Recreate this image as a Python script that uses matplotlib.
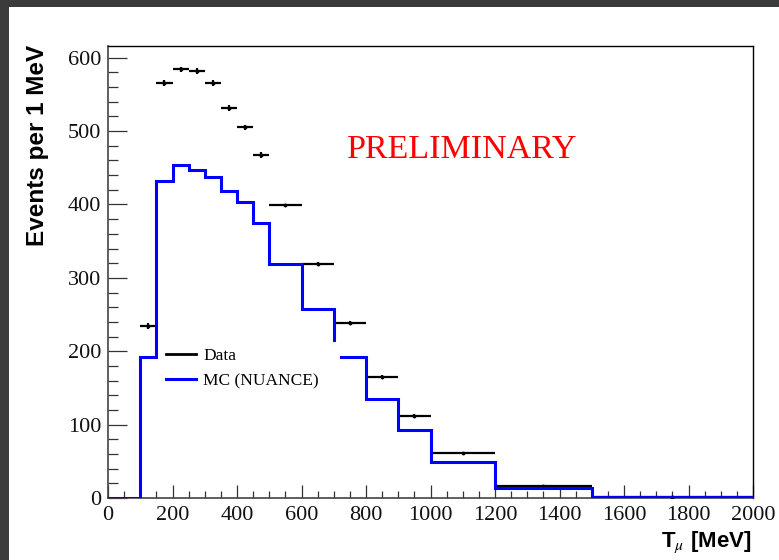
import matplotlib
matplotlib.use("Agg")
import matplotlib.pyplot as plt
from matplotlib.patches import Rectangle
from matplotlib.ticker import MultipleLocator
import numpy as np

# ---- data ----
bin_edges = [0, 100, 150, 200, 250, 300, 350, 400, 450, 500, 600, 700, 800, 900, 1000, 1200, 1500, 2000]
mc_values = [0, 192, 432, 454, 447, 437, 419, 404, 375, 319, 258, 192, 135, 93, 49, 14, 1]
data_values = [None, 235, 566, 584, 582, 565, 532, 505, 468, 399, 319, 239, 165, 112, 61, 16, 1]
data_errors = [None, 4, 4, 4, 4, 4, 4, 4, 4, 2, 2, 2, 2, 2, 1, 1, 1]
legend_labels = ["Data", "MC (NUANCE)"]
x_ticks = [0, 200, 400, 600, 800, 1000, 1200, 1400, 1600, 1800, 2000]
y_ticks = [0, 100, 200, 300, 400, 500, 600]

plt.rcParams['mathtext.fontset'] = 'stix'
serif = ['Liberation Serif', 'DejaVu Serif']
sans = ['Liberation Sans', 'DejaVu Sans']
narrow = ['Liberation Sans Narrow', 'Liberation Sans', 'DejaVu Sans']

W, H = 779, 560
fig = plt.figure(figsize=(W / 100, H / 100), dpi=100)
fig.patch.set_facecolor('white')

# dark screenshot border (top and left)
fig.patches.append(Rectangle((0, 1 - 7 / H), 1, 7 / H, transform=fig.transFigure,
                             facecolor='#3b3b3b', edgecolor='none', zorder=-10))
fig.patches.append(Rectangle((0, 0), 9 / W, 1, transform=fig.transFigure,
                             facecolor='#3b3b3b', edgecolor='none', zorder=-10))

L, R, T, B = 108, 753, 46, 498
ax = fig.add_axes([L / W, 1 - B / H, (R - L) / W, (B - T) / H])

edges = np.array(bin_edges, dtype=float)
ax.stairs(mc_values, edges, color='#0000ff', lw=2.2, baseline=0, zorder=3,
          label=legend_labels[1])

centers, vals, xerr, yerr = [], [], [], []
for i, v in enumerate(data_values):
    if v is None:
        continue
    centers.append(0.5 * (edges[i] + edges[i + 1]))
    xerr.append(0.5 * (edges[i + 1] - edges[i]))
    vals.append(v)
    yerr.append(data_errors[i])
eb = ax.errorbar(centers, vals, xerr=xerr, yerr=yerr, fmt='o', ms=1.8, color='black',
                 ecolor='black', elinewidth=1.6, capsize=0, zorder=2.5, label=legend_labels[0])

ax.set_xlim(0, 2000)
ax.set_ylim(0, 616)

ax.xaxis.set_minor_locator(MultipleLocator(50))
ax.yaxis.set_minor_locator(MultipleLocator(20))
ax.set_xticks(x_ticks)
ax.set_yticks(y_ticks)
ax.set_xticklabels([str(t) for t in x_ticks])
ax.set_yticklabels([str(t) for t in y_ticks])

ax.tick_params(axis='x', which='major', direction='in', length=9.7, width=0.9, pad=6,
               top=False, color='#333333')
ax.tick_params(axis='x', which='minor', direction='in', length=4.9, width=0.9, top=False,
               color='#333333')
ax.tick_params(axis='y', which='major', direction='in', length=14, width=0.9, pad=5,
               right=False, color='#333333')
ax.tick_params(axis='y', which='minor', direction='in', length=7, width=0.9, right=False,
               color='#333333')
for lab in ax.get_xticklabels() + ax.get_yticklabels():
    lab.set_fontfamily(serif)
    lab.set_fontsize(16)
    lab.set_color('#111111')

for s in ['left', 'bottom']:
    ax.spines[s].set_color('#444444')
    ax.spines[s].set_linewidth(1.2)
for s in ['top', 'right']:
    ax.spines[s].set_color('black')
    ax.spines[s].set_linewidth(1.0)

# legend
handles = [plt.Line2D([], [], color='black', lw=2.0),
           plt.Line2D([], [], color='#0000ff', lw=2.2)]
leg = ax.legend(handles, legend_labels, loc='upper left',
                bbox_to_anchor=((160 - L) / (R - L), (B - 342) / (B - T) - 0.14,
                                (340 - 160) / (R - L), 0.14),
                mode='expand', borderaxespad=0, borderpad=0.35, handlelength=1.7,
                handletextpad=0.45, labelspacing=0.5,
                prop={'family': serif, 'size': 12.5}, frameon=True, fancybox=False,
                facecolor='white', edgecolor='none', framealpha=1.0)
leg.set_zorder(5)

ax.text((347 - L) / (R - L), (B - 158) / (B - T), 'PRELIMINARY', transform=ax.transAxes,
        color='#ff0000', fontsize=24.5, fontfamily=serif, ha='left', va='baseline')

fig.text(38 / W, 1 - 45 / H, 'Events per 1 MeV', rotation=90, ha='center', va='top',
         fontsize=17.5, fontweight='bold', fontfamily=sans)
fig.text(752 / W, 1 - 547 / H, r'T$_{\mu}$ [MeV]', ha='right', va='baseline',
         fontsize=16, fontweight='bold', fontfamily=narrow)

fig.savefig('out.png', dpi=100, facecolor=fig.get_facecolor())
